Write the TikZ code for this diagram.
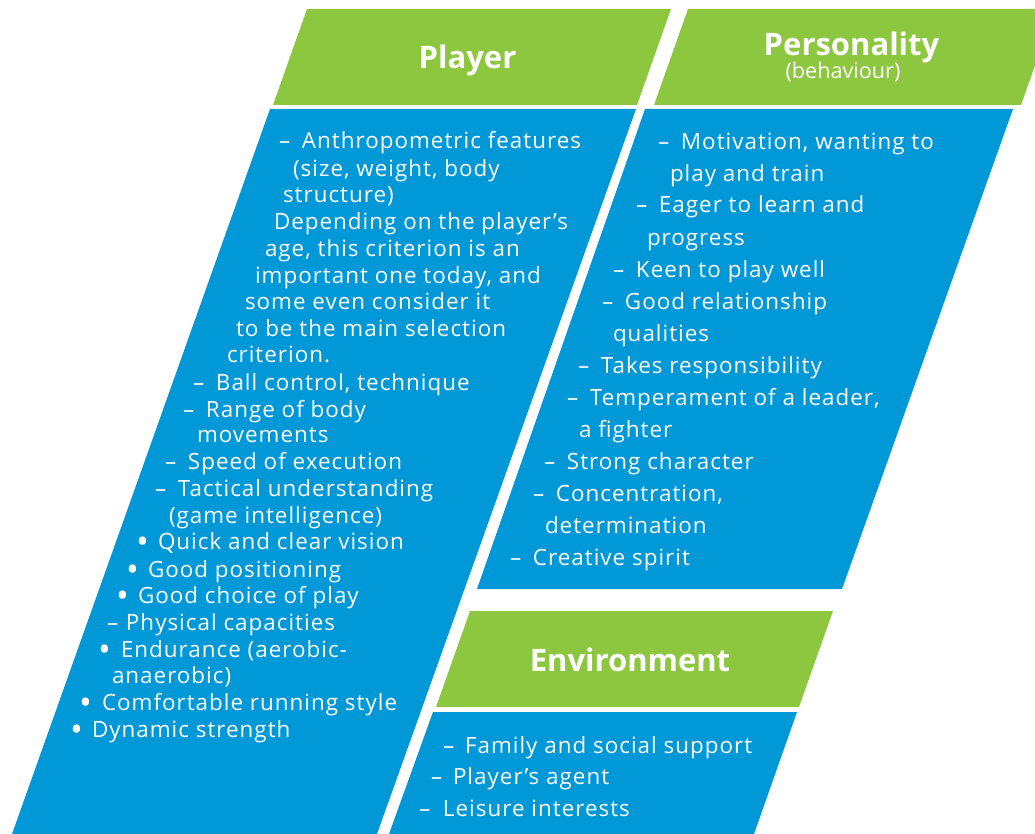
\documentclass[tikz,border=0pt]{standalone}
\usepackage{fontspec}
\setmainfont{Open Sans}[LetterSpace=4.5]
\newfontfamily\hdrfont{Open Sans}[BoldFont={* Bold}]
\definecolor{lgreen}{RGB}{141,198,63}
\definecolor{lblue}{RGB}{0,152,214}
\newcommand\dsh{\makebox[23pt][l]{–}}
\newcommand\bigblt{\raisebox{-4pt}{\fontsize{34}{34}\selectfont •}}
\newcommand\blt{\makebox[22pt][l]{\bigblt}}
\begin{document}
\begin{tikzpicture}[x=1pt,y=-1pt,
  hdr/.style={fill=lgreen},
  bdy/.style={fill=lblue},
  ln/.style={anchor=base west,inner sep=0pt,outer sep=0pt,text=white,font=\fontsize{22.4}{26}\selectfont},
  ttl/.style={anchor=base,inner sep=0pt,outer sep=0pt,text=white,font=\hdrfont\bfseries\fontsize{31}{35}\selectfont},
  sub/.style={anchor=base,inner sep=0pt,outer sep=0pt,text=white,font=\hdrfont\fontsize{21.6}{24}\selectfont}]
\useasboundingbox (0,0) rectangle (1035,834);
\clip (0,0) rectangle (1035,834);
% shapes
\fill[hdr] (307,9) -- (671,9) -- (637,105) -- (273,105) -- cycle;
\fill[bdy] (270,109) -- (636,109) -- (377,834) -- (12,834) -- cycle;
\fill[hdr] (688,9) -- (1055,9) -- (1021,105) -- (654,105) -- cycle;
\fill[bdy] (645,109) -- (1013,109) -- (842,589) -- (477,589) -- cycle;
\fill[hdr] (470,611) -- (833,611) -- (799,707) -- (436,707) -- cycle;
\fill[bdy] (433,712) -- (797,712) -- (754,834) -- (389,834) -- cycle;
% titles
\node[ttl] (tplayer) at (467.5,69) {Player};
\node[ttl] (tpers) at (851.5,56) {Personality};
\node[sub] (tbeh) at (843,79) {(behaviour)};
\node[ttl] (tenv) at (630,671) {Environment};
% player list
\node[ln] (p1) at (279,149) {\dsh Anthropometric features};
\node[ln] (p2) at (293,177) {(size, weight, body};
\node[ln] (p3) at (283,203) {structure)};
\node[ln] (p4) at (274,230) {Depending on the player’s};
\node[ln] (p5) at (265,257) {age, this criterion is an};
\node[ln] (p6) at (255,283) {important one today, and};
\node[ln] (p7) at (245,309) {some even consider it};
\node[ln] (p8) at (236,336) {to be the main selection};
\node[ln] (p9) at (227,362) {criterion.};
\node[ln] (p10) at (193,390) {\dsh Ball control, technique};
\node[ln] (p11) at (183,417) {\dsh Range of body};
\node[ln] (p12) at (197,442) {movements};
\node[ln] (p13) at (165,469) {\dsh Speed of execution};
\node[ln] (p14) at (155,496) {\dsh Tactical understanding};
\node[ln] (p15) at (169,523) {(game intelligence)};
\node[ln] (p16) at (136,549) {\blt Quick and clear vision};
\node[ln] (p17) at (126,577) {\blt Good positioning};
\node[ln] (p18) at (116,603) {\blt Good choice of play};
\node[ln] (p19) at (107,630) {\makebox[19pt][l]{–}Physical capacities};
\node[ln] (p20) at (98,657) {\makebox[23pt][l]{\bigblt}Endurance (aerobic-};
\node[ln] (p21) at (112,683) {anaerobic)};
\node[ln] (p22) at (79,710) {\makebox[23pt][l]{\bigblt}Comfortable running style};
\node[ln] (p23) at (70,737) {\makebox[22pt][l]{\bigblt}Dynamic strength};
% personality list
\node[ln] (q1) at (658,150) {\dsh Motivation, wanting to};
\node[ln] (q2) at (670,182) {play and train};
\node[ln] (q3) at (636,213) {\dsh Eager to learn and};
\node[ln] (q4) at (647,245) {progress};
\node[ln] (q5) at (613,277) {\dsh Keen to play well};
\node[ln] (q6) at (602,309) {\dsh Good relationship};
\node[ln] (q7) at (613,341) {qualities};
\node[ln] (q8) at (578,373) {\dsh Takes responsibility};
\node[ln] (q9) at (567,405) {\dsh Temperament of a leader,};
\node[ln] (q10) at (579,437) {a fighter};
\node[ln] (q11) at (544,469) {\dsh Strong character};
\node[ln] (q12) at (533,501) {\dsh Concentration,};
\node[ln] (q13) at (545,533) {determination};
\node[ln] (q14) at (510,565) {\dsh Creative spirit};
% environment list
\node[ln] (e1) at (443,753) {\makebox[22pt][l]{–}Family and social support};
\node[ln] (e2) at (431,784) {\makebox[22pt][l]{–}Player’s agent};
\node[ln] (e3) at (419,816) {\makebox[24pt][l]{–}Leisure interests};
\end{tikzpicture}
\end{document}
